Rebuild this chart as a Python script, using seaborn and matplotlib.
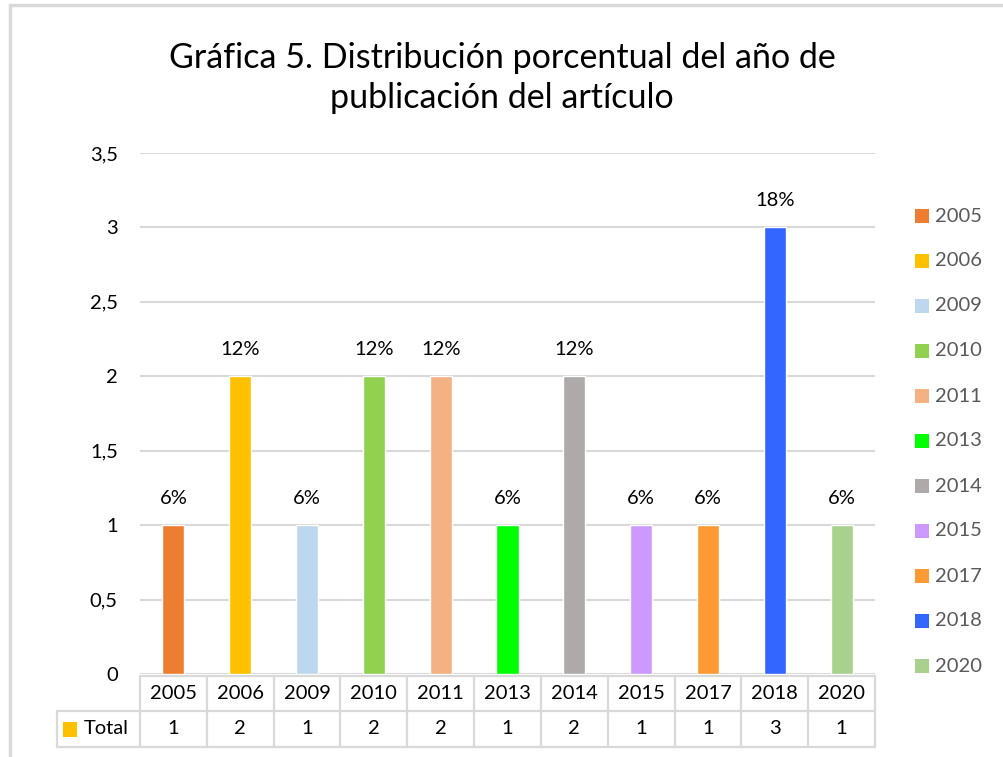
import matplotlib
matplotlib.use("Agg")
import matplotlib.pyplot as plt
import seaborn as sns
import pandas as pd
from matplotlib.lines import Line2D
from matplotlib.patches import Rectangle

years = ["2005", "2006", "2009", "2010", "2011", "2013", "2014", "2015", "2017", "2018", "2020"]
totals = [1, 2, 1, 2, 2, 1, 2, 1, 1, 3, 1]
pct_labels = ["6%", "12%", "6%", "12%", "12%", "6%", "12%", "6%", "6%", "18%", "6%"]
colors = ["#ED7D31", "#FFC000", "#BDD7EE", "#92D050", "#F4B183", "#00FF00",
          "#AEAAAA", "#CC99FF", "#FF9933", "#3366FF", "#A9D18E"]
yticks = [0, 0.5, 1, 1.5, 2, 2.5, 3, 3.5]
ytick_labels = ["0", "0,5", "1", "1,5", "2", "2,5", "3", "3,5"]
title = "Gráfica 5. Distribución porcentual del año de\npublicación del artículo"
series_name = "Total"

sns.set_theme(style="white")
plt.rcParams['font.family'] = ['Lato', 'DejaVu Sans']

W, H = 1004, 757
fig = plt.figure(figsize=(W / 100, H / 100), dpi=100)

def fx(px):
    return px / W

def fy(py):
    return 1 - py / H

FS = 14.5
ax_left, ax_right, ax_bottom, ax_top = 140, 875, 674, 153
ax = fig.add_axes([fx(ax_left), fy(ax_bottom), fx(ax_right - ax_left), fy(ax_top) - fy(ax_bottom)])

df = pd.DataFrame({"year": years, "total": totals})
sns.barplot(data=df, x="year", y="total", hue="year", palette=colors, dodge=False,
            width=0.33, legend=False, ax=ax, saturation=1)

ax.set_ylim(0, 3.5)
ax.set_xlim(-0.5, len(years) - 0.5)
ax.set_yticks(yticks)
ax.set_yticklabels(ytick_labels, fontsize=FS, color="#000000")
ax.tick_params(axis="y", pad=16, length=0)
ax.set_xticks([])
ax.set_xlabel("")
ax.set_ylabel("")
for s in ax.spines.values():
    s.set_visible(False)
ax.yaxis.grid(True, color="#D9D9D9", linewidth=1.5)
ax.set_axisbelow(True)

for i, (v, lab) in enumerate(zip(totals, pct_labels)):
    ax.annotate(lab, (i, v), xytext=(0, 13), textcoords="offset points",
                ha="center", va="bottom", fontsize=FS, color="#000000")

# Title
fig.text(0.5, fy(78), title, ha="center", va="center", fontsize=24.5,
         color="#000000", linespacing=1.3)

# Data table
grid_c = "#D9D9D9"
lw = 1.6
row1_top, row1_bot, row2_bot = 676, 711, 747
col_w = (ax_right - ax_left) / len(years)
tab_left = 57
lines = []
lines.append(((ax_left, ax_right), (row1_top, row1_top)))
lines.append(((tab_left, ax_right), (row1_bot, row1_bot)))
lines.append(((tab_left, ax_right), (row2_bot, row2_bot)))
lines.append(((tab_left, tab_left), (row1_bot, row2_bot)))
for k in range(len(years) + 1):
    x = ax_left + k * col_w
    lines.append(((x, x), (row1_top, row2_bot)))
for xs, ys in lines:
    fig.add_artist(Line2D([fx(xs[0]), fx(xs[1])], [fy(ys[0]), fy(ys[1])],
                          color=grid_c, linewidth=lw, transform=fig.transFigure))
for k, (yr, t) in enumerate(zip(years, totals)):
    cx = ax_left + (k + 0.5) * col_w
    fig.text(fx(cx), fy((row1_top + row1_bot) / 2), yr, ha="center", va="center",
             fontsize=FS, color="#000000")
    fig.text(fx(cx), fy((row1_bot + row2_bot) / 2), str(t), ha="center", va="center",
             fontsize=FS, color="#000000")
fig.add_artist(Rectangle((fx(63), fy(737)), fx(14), fy(722) - fy(737),
                         facecolor=colors[1], edgecolor="none", transform=fig.transFigure))
fig.text(fx(84), fy((row1_bot + row2_bot) / 2), series_name, ha="left", va="center",
         fontsize=FS, color="#000000")

# Legend
for k, (yr, c) in enumerate(zip(years, colors)):
    yc = 216 + k * 45
    fig.add_artist(Rectangle((fx(915), fy(yc + 7)), fx(14), fy(yc - 7) - fy(yc + 7),
                             facecolor=c, edgecolor="none", transform=fig.transFigure))
    fig.text(fx(935), fy(yc), yr, ha="left", va="center", fontsize=FS, color="#595959")

# Frame
fig.add_artist(Line2D([fx(10), 1], [fy(5), fy(5)], color="#D9D9D9", linewidth=2.5,
                      transform=fig.transFigure))
fig.add_artist(Line2D([fx(10), fx(10)], [fy(5), 0], color="#D9D9D9", linewidth=2.5,
                      transform=fig.transFigure))

fig.savefig("out.png", dpi=100)
